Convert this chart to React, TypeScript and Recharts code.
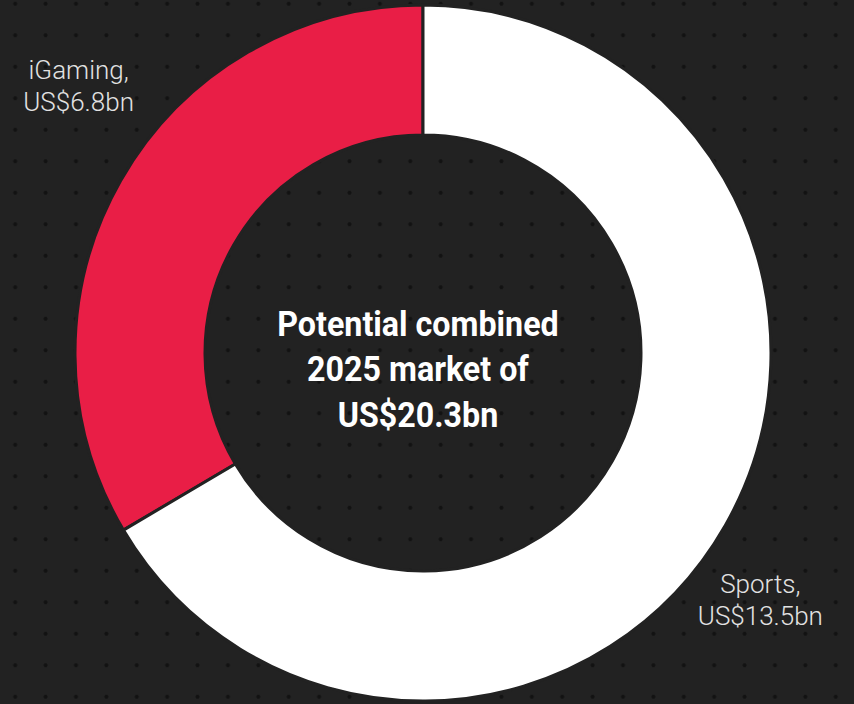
import { Cell, Pie, PieChart } from "recharts";

const segments = ["iGaming", "Sports"];
const values = [6.8, 13.5];
const valueLabels = ["US$6.8bn", "US$13.5bn"];
const colors = ["#e91e46", "#ffffff"];
const centerLines = ["Potential combined", "2025 market of", "US$20.3bn"];

const data = segments.map((name, i) => ({ name, value: values[i], text: valueLabels[i] }));

// where each outside label sits, as angle (deg) and distance from the centre
const labelSpots: Record<string, { angle: number; r: number }> = {
  iGaming: { angle: 142, r: 437 },
  Sports: { angle: 324, r: 417 },
};

const RAD = Math.PI / 180;

function CenterText({ cx, cy }: { cx: number; cy: number }) {
  // the title sits a touch left of the ring's centre
  const x = cx - 5;
  return (
    <g transform={`translate(${x},0) scale(0.895,1) translate(${-x},0)`}>
      <text
        x={x}
        textAnchor="middle"
        fill="#ffffff"
        fontFamily="Roboto"
        fontWeight={700}
        fontSize={36}>
        {centerLines.map((line, i) => (
          <tspan key={line} x={x} y={cy - 17 + i * 45.5}>
            {line}
          </tspan>
        ))}
      </text>
    </g>
  );
}

function SliceLabel(props: any) {
  const { cx, cy, payload, name, index } = props;
  const key = name ?? payload?.name;
  const spot = labelSpots[key];
  if (!spot) return null;
  const x = cx + spot.r * Math.cos(spot.angle * RAD);
  const y = cy - spot.r * Math.sin(spot.angle * RAD);
  const text = payload?.text ?? props.text;
  return (
    <g>
      <text
        x={x}
        textAnchor="middle"
        fill="#e2e2e2"
        fontFamily="Roboto"
        fontWeight={300}
        fontSize={26}>
        <tspan x={x} y={y - 5}>
          {key},
        </tspan>
        <tspan x={x} y={y + 27}>
          {text}
        </tspan>
      </text>
      {index === 0 && <CenterText cx={cx} cy={cy} />}
    </g>
  );
}

export default function App() {
  return (
    <div
      style={{
        position: "absolute",
        left: 0,
        top: 0,
        width: 854,
        height: 704,
        backgroundColor: "#222222",
        backgroundImage: "radial-gradient(circle, #121212 1.6px, rgba(0,0,0,0) 2.4px)",
        backgroundSize: "30.4px 31.5px",
        backgroundPosition: "0px -12px",
        overflow: "hidden",
      }}>
      <PieChart width={854} height={704} margin={{ top: 0, right: 0, bottom: 0, left: 0 }}>
        <Pie
          data={data}
          dataKey="value"
          nameKey="name"
          cx={423}
          cy={353}
          innerRadius={218}
          outerRadius={348}
          startAngle={90}
          endAngle={450}
          stroke="#222222"
          strokeWidth={3}
          labelLine={false}
          label={SliceLabel}
          isAnimationActive={false}>
          {data.map((d, i) => (
            <Cell key={d.name} fill={colors[i]} />
          ))}
        </Pie>
      </PieChart>
    </div>
  );
}
